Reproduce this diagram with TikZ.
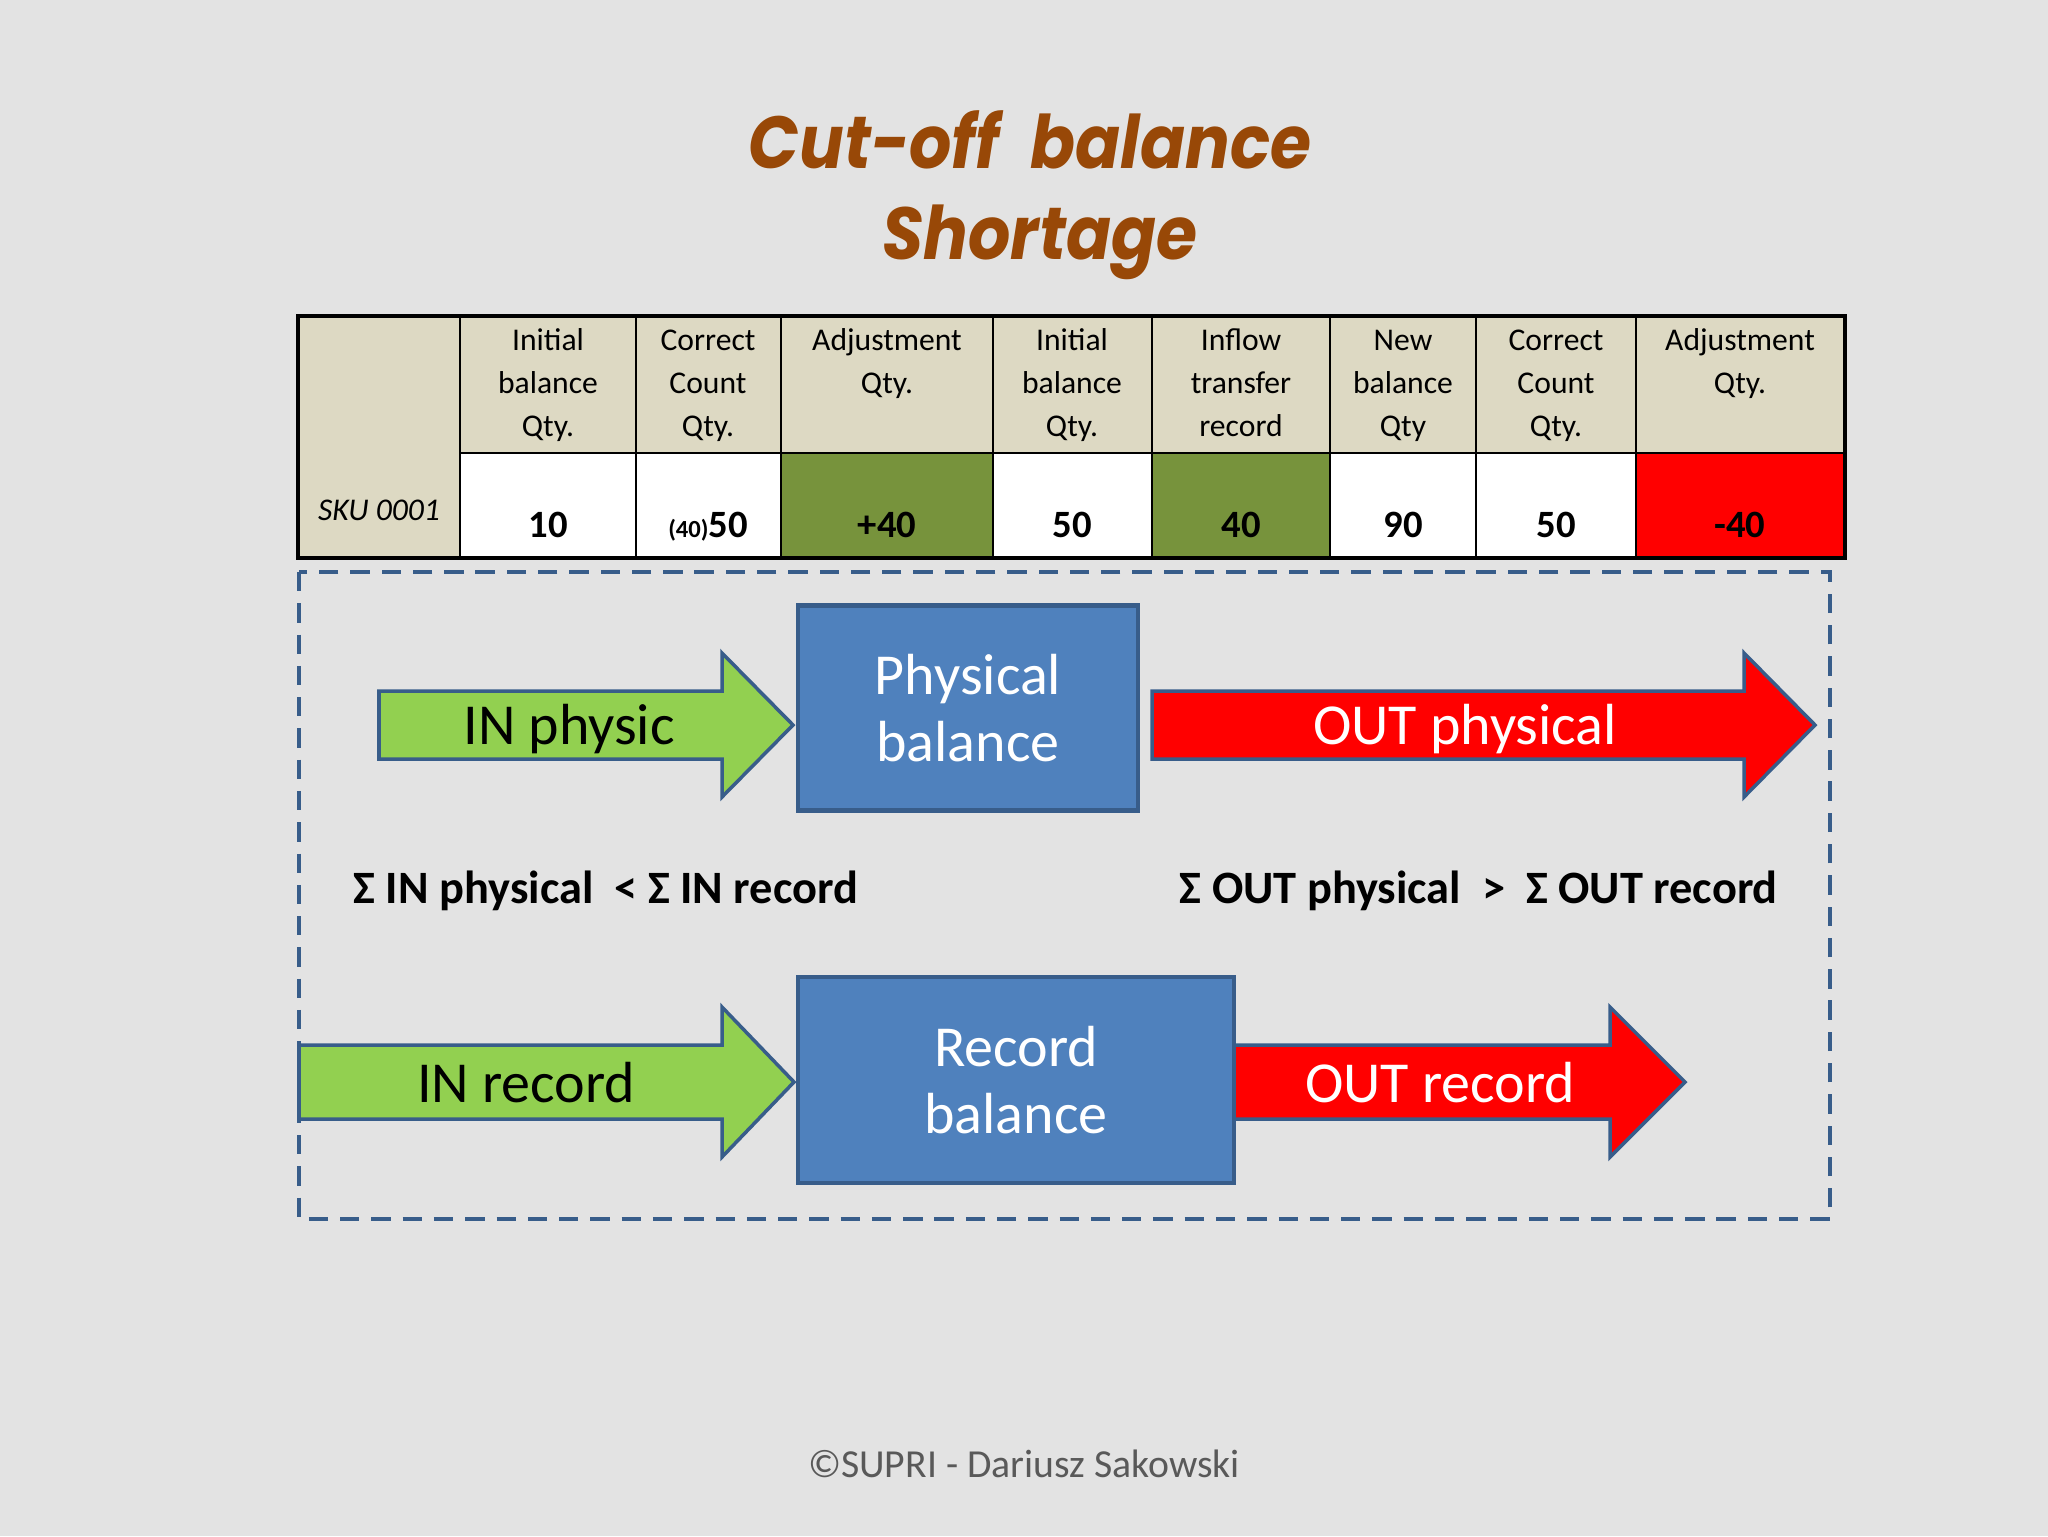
\documentclass[tikz,border=0pt]{standalone}
\usepackage{fontspec}
\setmainfont{Carlito}
\newfontfamily\titlefont{Poppins}[FakeStretch=0.9]
\definecolor{slidebg}{HTML}{E3E3E3}
\definecolor{hdrbg}{HTML}{DDD9C3}
\definecolor{okgreen}{HTML}{77933C}
\definecolor{badred}{HTML}{FF0000}
\definecolor{ingreen}{HTML}{92D050}
\definecolor{boxblue}{HTML}{4F81BD}
\definecolor{edgeblue}{HTML}{385D8A}
\definecolor{titlebrown}{HTML}{984807}
\definecolor{footgrey}{HTML}{595959}
\begin{document}
\begin{tikzpicture}[x=0.1mm,y=-0.1mm,
	titletxt/.style={font=\titlefont\fontsize{21}{25}\selectfont\bfseries\itshape, text=titlebrown, anchor=base, inner sep=0pt},
	cellline/.style={draw=black, line width=0.8pt},
	hdr/.style={font=\fontsize{9}{11}\selectfont, anchor=base, inner sep=0pt},
	val/.style={font=\fontsize{11}{13}\selectfont\bfseries, anchor=base, inner sep=0pt},
	inarrow/.style={fill=ingreen, draw=edgeblue, line width=1pt, line join=miter},
	outarrow/.style={fill=badred, draw=edgeblue, line width=1pt, line join=miter},
	arrtxt/.style={font=\fontsize{16.5}{19}\selectfont, anchor=base, inner sep=0pt},
	balbox/.style={fill=boxblue, draw=edgeblue, line width=1.4pt, text=white, align=center, font=\fontsize{16.5}{19.3}\selectfont},
	sumtxt/.style={font=\fontsize{13.2}{15}\selectfont\bfseries, anchor=base west, inner sep=0pt}]
	\fill[slidebg] (0,0) rectangle (2048,1536);
	\useasboundingbox (0,0) rectangle (2048,1536);
	\node[titletxt] (title1) at (1030,168) {Cut-off\ \ balance};
	\node[titletxt] (title2) at (1040,259) {Shortage};
	% table
	\draw[cellline, fill=hdrbg] (298,316) rectangle (460,558);
	\foreach \xa/\xb/\cf in {460/636/white, 636/781/white, 781/993/okgreen, 993/1152/white, 1152/1330/okgreen, 1330/1476/white, 1476/1636/white, 1636/1845/badred}{
		\draw[cellline, fill=hdrbg] (\xa,316) rectangle (\xb,453);
		\draw[cellline, fill=\cf] (\xa,453) rectangle (\xb,558);
	}
	\draw[line width=1pt] (298,316) rectangle (1845,558);
	\node[hdr, font=\fontsize{9}{11}\selectfont\itshape] (sku) at (379,520) {SKU 0001};
	\foreach \cx/\ta/\tb/\tc/\v [count=\i] in {548/Initial/balance/Qty./10, 708/Correct/Count/Qty./{{\fontsize{7}{8}\selectfont(40)}50}, 887/Adjustment/Qty./{}/+40, 1072/Initial/balance/Qty./50, 1241/Inflow/transfer/record/40, 1403/New/balance/Qty/90, 1556/Correct/Count/Qty./50, 1740/Adjustment/Qty./{}/-40}{
		\node[hdr] (ha\i) at (\cx,350) {\ta};
		\node[hdr] (hb\i) at (\cx,393) {\tb};
		\node[hdr] (hc\i) at (\cx,436) {\tc};
		\node[val] (v\i) at (\cx,537) {\v};
	}
	% flows
	\draw[edgeblue, line width=1.2pt, dash pattern=on 5.5pt off 3.4pt] (299,572) rectangle (1830,1219);
	\coordinate (inp) at (379,725);
	\coordinate (outp) at (1152,725);
	\coordinate (inr) at (299,1082);
	\coordinate (outr) at (1234,1082);
	\draw[inarrow] (inp) ++(0,-34) -- ++(343,0) -- ++(0,-38) -- ++(71,72) -- ++(-71,72) -- ++(0,-38) -- ++(-343,0) -- cycle;
	\draw[outarrow] (outp) ++(0,-34) -- ++(592,0) -- ++(0,-38) -- ++(71,72) -- ++(-71,72) -- ++(0,-38) -- ++(-592,0) -- cycle;
	\draw[inarrow] (inr) ++(0,-37) -- ++(423,0) -- ++(0,-38) -- ++(72,75) -- ++(-72,75) -- ++(0,-38) -- ++(-423,0) -- cycle;
	\draw[outarrow] (outr) ++(0,-37) -- ++(376,0) -- ++(0,-38) -- ++(75,75) -- ++(-75,75) -- ++(0,-38) -- ++(-376,0) -- cycle;
	\node[balbox, minimum width=34mm, minimum height=20.5mm] (phys) at (968,708) {Physical\\balance};
	\node[balbox, minimum width=43.6mm, minimum height=20.6mm] (rec) at (1016,1080) {Record\\balance};
	\node[arrtxt] (tinp) at (569,744) {IN physic};
	\node[arrtxt, text=white] (toutp) at (1465,744) {OUT physical};
	\node[arrtxt] (tinr) at (526,1102) {IN record};
	\node[arrtxt, text=white] (toutr) at (1440,1102) {OUT record};
	\node[sumtxt] (sumin) at (353,903) {Σ IN physical\ \ < Σ IN record};
	\node[sumtxt] (sumout) at (1179,903) {Σ OUT physical\ \ >\ \ Σ OUT record};
	\node[anchor=base, inner sep=0pt, text=footgrey, font=\fontsize{11.3}{13}\selectfont] (foot) at (1024,1477) {©SUPRI - Dariusz Sakowski};
\end{tikzpicture}
\end{document}
